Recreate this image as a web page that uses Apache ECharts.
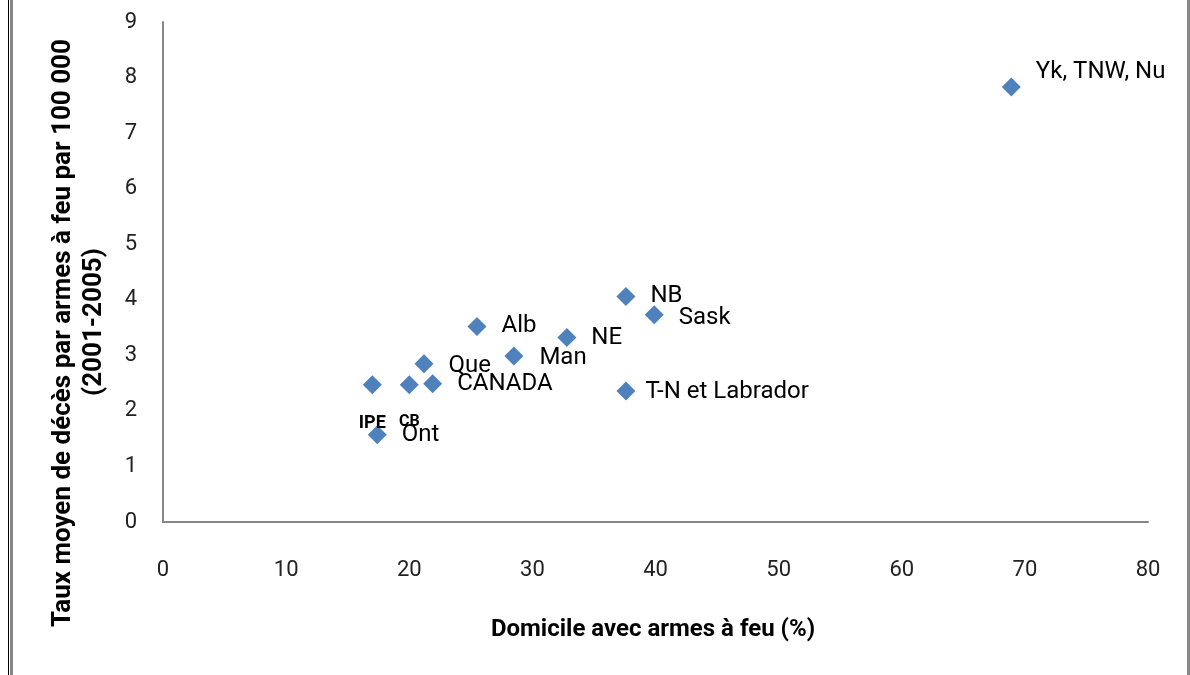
<!DOCTYPE html>
<html>
<head>
<meta charset="utf-8">
<script src="https://cdn.jsdelivr.net/npm/echarts@6/dist/echarts.min.js"></script>
<style>
html,body{margin:0;padding:0;background:#fff;}
#chart{width:1190px;height:675px;}
</style>
</head>
<body>
<div id="chart"></div>
<script>
// Data
var regions = ['Yk, TNW, Nu', 'NB', 'Sask', 'Alb', 'NE', 'Man', 'Que', 'CANADA', 'CB', 'IPE', 'T-N et Labrador', 'Ont'];
var gunHomes = [68.9, 37.6, 39.9, 25.5, 32.8, 28.5, 21.2, 21.9, 20.0, 17.0, 37.6, 17.4];
var deathRates = [7.83, 4.06, 3.73, 3.52, 3.32, 2.99, 2.85, 2.49, 2.47, 2.47, 2.36, 1.57];
var xTicks = [0, 10, 20, 30, 40, 50, 60, 70, 80];
var yTicks = [0, 1, 2, 3, 4, 5, 6, 7, 8, 9];
var xTitle = 'Domicile avec armes à feu (%)';
var yTitleLines = ['Taux moyen de décès par armes à feu par 100 000', '(2001-2005)'];

// per-label placement tweaks (styling, not data)
var labelTweaks = {
  'Yk, TNW, Nu': {dx: 0, dy: -15},
  'Sask': {dx: 0, dy: 3},
  'Man': {dx: 1, dy: 2},
  'Que': {dx: 0, dy: 2},
  'T-N et Labrador': {dx: -5, dy: 1},
  'IPE': {position: 'bottom', distance: 20, fontSize: 18, fontWeight: 'bold'},
  'CB': {position: 'bottom', distance: 20, fontSize: 16, fontWeight: 'bold'}
};

var points = regions.map(function (r, i) {
  var t = labelTweaks[r] || {};
  var lbl = {
    show: true,
    formatter: r,
    position: t.position || 'right',
    distance: t.distance != null ? t.distance : 15
  };
  if (t.dx || t.dy) lbl.offset = [t.dx || 0, t.dy || 0];
  if (t.fontSize) lbl.fontSize = t.fontSize;
  if (t.fontWeight) lbl.fontWeight = t.fontWeight;
  return {name: r, value: [gunHomes[i], deathRates[i]], label: lbl};
});

var chart = echarts.init(document.getElementById('chart'), null, {renderer: 'canvas'});
var axisLineStyle = {color: '#868686', width: 2};
chart.setOption({
  animation: false,
  backgroundColor: '#fff',
  grid: {left: 163, right: 42, top: 22, bottom: 153},
  xAxis: {
    type: 'value',
    min: xTicks[0], max: xTicks[xTicks.length - 1], interval: xTicks[1] - xTicks[0],
    axisLine: {show: true, onZero: false, lineStyle: axisLineStyle},
    axisTick: {show: false},
    splitLine: {show: false},
    axisLabel: {margin: 37, fontFamily: 'Roboto', fontSize: 22, color: '#222'}
  },
  yAxis: {
    type: 'value',
    min: yTicks[0], max: yTicks[yTicks.length - 1], interval: yTicks[1] - yTicks[0],
    axisLine: {show: true, onZero: false, lineStyle: axisLineStyle},
    axisTick: {show: false},
    splitLine: {show: false},
    axisLabel: {margin: 26, fontFamily: 'Roboto', fontSize: 22, color: '#222'}
  },
  series: [{
    type: 'scatter',
    symbol: 'diamond',
    symbolSize: 19,
    itemStyle: {color: '#4F81BD', opacity: 1},
    label: {color: '#000', fontFamily: 'Roboto', fontSize: 24},
    data: points
  }],
  graphic: [
    {type: 'rect', shape: {x: 8, y: 0, width: 1, height: 675}, style: {fill: '#000'}, silent: true},
    {type: 'rect', shape: {x: 10, y: 0, width: 3, height: 675}, style: {fill: '#888'}, silent: true},
    {type: 'rect', shape: {x: 1187, y: 0, width: 3, height: 675}, style: {fill: '#888'}, silent: true},
    {type: 'text', x: 653, y: 630, style: {text: xTitle, fontFamily: 'Roboto', fontWeight: 'bold', fontSize: 24, fill: '#000', align: 'center', verticalAlign: 'middle'}},
    {type: 'text', x: 63, y: 333, rotation: Math.PI / 2, style: {text: yTitleLines[0], fontFamily: 'Roboto', fontWeight: 'bold', fontSize: 26, fill: '#000', align: 'center', verticalAlign: 'middle'}},
    {type: 'text', x: 94, y: 322, rotation: Math.PI / 2, style: {text: yTitleLines[1], fontFamily: 'Roboto', fontWeight: 'bold', fontSize: 26, fill: '#000', align: 'center', verticalAlign: 'middle'}}
  ]
});
</script>
</body>
</html>
